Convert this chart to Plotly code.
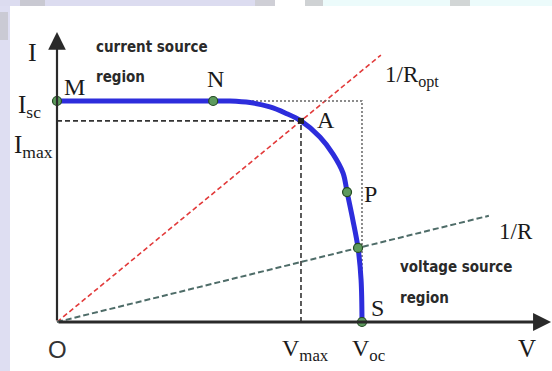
import numpy as np
import plotly.graph_objects as go

W, H = 552, 371

# I-V characteristic of a PV source, normalised so that Voc = 1 and Isc = 1
v_curve = [0.0, 0.512, 0.567, 0.633, 0.698, 0.748, 0.800, 0.862, 0.905, 0.938, 0.951, 0.970, 0.987, 0.997, 1.0]
i_curve = [1.0, 1.0, 1.0, 0.993, 0.973, 0.946, 0.910, 0.837, 0.760, 0.674, 0.588, 0.462, 0.335, 0.190, 0.0]

# characteristic operating points on the curve (M, N, P, load-line crossing, S)
pt_v = [0.0, 0.512, 0.951, 0.987, 1.0]
pt_i = [1.0, 1.0, 0.588, 0.335, 0.0]

# maximum power point and source limits
v_max, i_max = 0.80, 0.91
v_oc, i_sc = 1.0, 1.0

# load lines (conductance 1/R) and how far they are drawn along V
g_opt = i_max / v_max
g_load = 0.335 / 0.987
v_end_opt = 1.062
v_end_load = 1.416

# axis arrow tips
v_tip = 1.62
i_tip = 1.312

x_range = [-0.1869, 1.6230]
y_range = [-0.2217, 1.4570]

fig = go.Figure()

# optimum load line 1/Ropt
vo = np.array([0.0, v_end_opt])
fig.add_trace(go.Scatter(x=vo, y=g_opt * vo, mode="lines",
                         line=dict(color="#e23a3a", width=1.6, dash="5px,3px")))
# arbitrary load line 1/R
vl = np.array([0.0, v_end_load])
fig.add_trace(go.Scatter(x=vl, y=g_load * vl, mode="lines",
                         line=dict(color="#4e6c68", width=2, dash="6px,3px")))

# Imax / Vmax guides
fig.add_trace(go.Scatter(x=[0, v_max, v_max], y=[i_max, i_max, 0], mode="lines",
                         line=dict(color="#333333", width=1.6, dash="5px,3px")))
# Isc / Voc box
fig.add_trace(go.Scatter(x=[0.6, v_oc, v_oc], y=[i_sc, i_sc, 0], mode="lines",
                         line=dict(color="#666666", width=1.5, dash="2px,2px")))

# the I-V curve
fig.add_trace(go.Scatter(x=v_curve, y=i_curve, mode="lines",
                         line=dict(color="#2d2ddc", width=5, shape="spline", smoothing=1.0)))

# operating point markers
fig.add_trace(go.Scatter(x=pt_v, y=pt_i, mode="markers",
                         marker=dict(size=9, color="#5d9a5d",
                                     line=dict(color="#234a23", width=1.2))))
fig.add_trace(go.Scatter(x=[v_max], y=[i_max], mode="markers",
                         marker=dict(size=6, color="#222222", symbol="square")))

# axes with arrow heads
axis_col = "#2a2a2a"
fig.add_annotation(x=v_tip, y=0, ax=0, ay=0, xref="x", yref="y", axref="x", ayref="y",
                   text="", showarrow=True, arrowhead=2, arrowsize=1.2, arrowwidth=3,
                   arrowcolor=axis_col, standoff=0)
fig.add_annotation(x=0, y=i_tip, ax=0, ay=0, xref="x", yref="y", axref="x", ayref="y",
                   text="", showarrow=True, arrowhead=2, arrowsize=1.6, arrowwidth=2.2,
                   arrowcolor=axis_col, standoff=0)

serif = "Liberation Serif, Times New Roman, serif"
narrow = "Liberation Sans Narrow, Arial Narrow, DejaVu Sans Condensed, sans-serif"


def label(txt, px, py, size=24, font=serif, anchor="center", color="#1a1a1a", bold=False):
    if bold:
        txt = "<b>" + txt + "</b>"
    fig.add_annotation(x=px / W, y=1 - py / H, xref="paper", yref="paper",
                       text=txt, showarrow=False, xanchor=anchor, yanchor="middle",
                       font=dict(family=font, size=size, color=color))


label("I", 32, 52, size=26)
label("M", 74, 87)
label("N", 215, 79)
label("I<sub>sc</sub>", 29, 106, size=25)
label("I<sub>max</sub>", 33, 146, size=25)
label("1/R<sub>opt</sub>", 383, 76, size=23, anchor="left")
label("A", 326, 120)
label("P", 370, 194)
label("1/R", 497, 231, size=23, anchor="left")
label("S", 377, 308)
label("O", 57, 349, size=24, font="Liberation Sans, Arial, sans-serif", color="#333333")
label("V<sub>max</sub>", 305, 350)
label("V<sub>oc</sub>", 368, 350)
label("V", 527, 348, size=25)

label("current source", 94, 47, size=15, font=narrow, anchor="left", color="#2a2a2a", bold=True)
label("region", 94, 77, size=15, font=narrow, anchor="left", color="#2a2a2a", bold=True)
label("voltage source", 398, 267, size=15, font=narrow, anchor="left", color="#2a2a2a", bold=True)
label("region", 398, 298, size=15, font=narrow, anchor="left", color="#2a2a2a", bold=True)

# page frame bands around the white drawing area
def band(x0, y0, x1, y1, color):
    fig.add_shape(type="rect", xref="paper", yref="paper",
                  x0=x0 / W, x1=x1 / W, y0=1 - y1 / H, y1=1 - y0 / H,
                  fillcolor=color, line_width=0, layer="below")


band(0, 0, 10, H, "#dedef2")
band(0, 0, 275, 6, "#dcdcf0")
band(20, 0, 45, 6, "#c9c9d2")
band(255, 0, 275, 6, "#cfcfd6")
band(305, 0, 323, 6, "#cfd2d4")
band(323, 0, 450, 6, "#ecfbfb")
band(450, 0, 470, 6, "#d2d6d6")
band(470, 0, W, 6, "#ecfbfb")
band(0, 12, 8, 40, "#cacad4")

fig.update_layout(
    width=W, height=H,
    margin=dict(l=0, r=0, t=0, b=0),
    paper_bgcolor="white", plot_bgcolor="rgba(0,0,0,0)",
    showlegend=False,
    xaxis=dict(range=x_range, visible=False, fixedrange=True),
    yaxis=dict(range=y_range, visible=False, fixedrange=True),
)

fig.write_html("out.html")
